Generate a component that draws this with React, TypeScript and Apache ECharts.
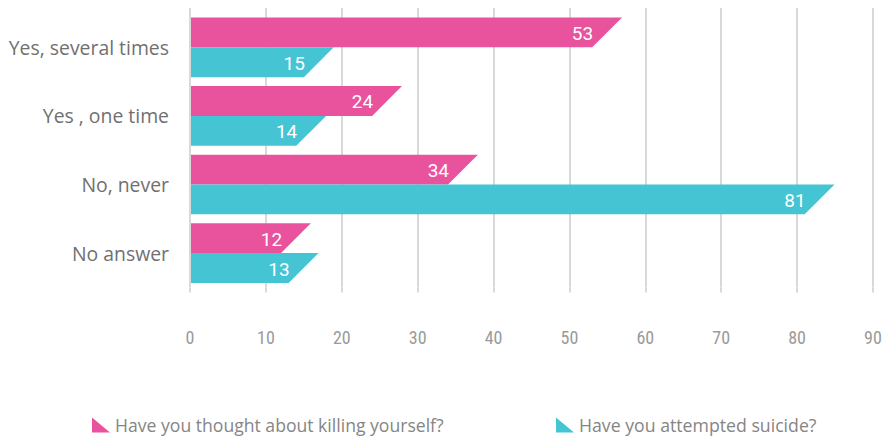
import React, { useEffect, useRef } from "react";
import * as echarts from "echarts";

const categories = ["Yes, several times", "Yes , one time", "No, never", "No answer"];
const thoughtValues = [53, 24, 34, 12];
const attemptedValues = [15, 14, 81, 13];
const seriesNames = ["Have you thought about killing yourself?", "Have you attempted suicide?"];
const xTicks = { min: 0, max: 90, interval: 10 };

const PINK = "#E9539D";
const TEAL = "#45C4D3";
const GRID = "#d9d9d9";
const FONT = "'Open Sans', Roboto, sans-serif";
const BARFONT = "Roboto, 'Noto Sans', sans-serif";
const NARROW = "'Liberation Sans Narrow', 'Roboto Condensed', 'DejaVu Sans Condensed', Roboto, sans-serif";

function makeRender(upper: boolean) {
  return (params: any, api: any) => {
    const v = api.value(0);
    const idx = api.value(1);
    const start = api.coord([0, idx]);
    const end = api.coord([v, idx]);
    const band = api.size([0, 1])[1];
    const h = band * 0.435;
    const cy = start[1];
    const y0 = upper ? cy - h : cy;
    const y1 = upper ? cy : cy + h;
    const x0 = start[0] + 1;
    const xe = end[0];
    return {
      type: "group",
      children: [
        {
          type: "polygon",
          shape: { points: [[x0, y0], [xe + h, y0], [xe, y1], [x0, y1]] },
          style: { fill: api.visual("color") },
        },
        {
          type: "text",
          style: {
            text: String(v),
            x: xe + 1,
            y: (y0 + y1) / 2 + 1,
            align: "right",
            verticalAlign: "middle",
            fill: "#ffffff",
            fontSize: 19,
            fontFamily: BARFONT,
          },
        },
      ],
    };
  };
}

export default function App() {
  const ref = useRef<HTMLDivElement>(null);
  useEffect(() => {
    if (!ref.current) return;
    const chart = echarts.init(ref.current, undefined, { renderer: "svg" });
    const legendIcon = "path://M0,0 L0,10 L12,10 Z";
    chart.setOption({
      animation: false,
      color: [PINK, TEAL],
      grid: { left: 190, right: 17, top: 13, height: 274.4, containLabel: false },
      legend: [
        {
          data: [seriesNames[0]],
          left: 87,
          top: 411,
          icon: legendIcon,
          itemWidth: 18,
          itemHeight: 15,
          itemGap: 10,
          textStyle: { fontSize: 17.6, color: "#858585", fontFamily: FONT },
        },
        {
          data: [seriesNames[1]],
          left: 551,
          top: 411,
          icon: legendIcon,
          itemWidth: 18,
          itemHeight: 15,
          itemGap: 10,
          textStyle: { fontSize: 17.7, color: "#858585", fontFamily: FONT },
        },
      ],
      xAxis: [
        {
          type: "value",
          position: "bottom",
          min: xTicks.min,
          max: xTicks.max,
          interval: xTicks.interval,
          axisLine: { show: false },
          axisTick: { show: true, length: 5, lineStyle: { color: GRID, width: 2 } },
          splitLine: { show: true, lineStyle: { color: GRID, width: 2 } },
          axisLabel: { margin: 41, fontSize: 18, color: "#9a9a9a", fontFamily: NARROW },
        },
        {
          type: "value",
          position: "top",
          min: xTicks.min,
          max: xTicks.max,
          interval: xTicks.interval,
          axisLine: { show: false },
          axisTick: { show: true, length: 5, lineStyle: { color: GRID, width: 2 } },
          splitLine: { show: false },
          axisLabel: { show: false },
        },
      ],
      yAxis: {
        type: "category",
        data: categories,
        inverse: true,
        axisLine: { show: false },
        axisTick: { show: false },
        splitLine: { show: false },
        axisLabel: { margin: 21, fontSize: 19.4, color: "#707070", fontFamily: FONT },
      },
      series: [
        {
          name: seriesNames[0],
          type: "custom",
          itemStyle: { color: PINK },
          encode: { x: 0, y: 1 },
          data: thoughtValues.map((v, i) => [v, i]),
          renderItem: makeRender(true),
        },
        {
          name: seriesNames[1],
          type: "custom",
          itemStyle: { color: TEAL },
          encode: { x: 0, y: 1 },
          data: attemptedValues.map((v, i) => [v, i]),
          renderItem: makeRender(false),
        },
      ],
    });
    return () => chart.dispose();
  }, []);
  return (
    <div
      ref={ref}
      style={{ position: "fixed", left: 0, top: 0, width: 890, height: 442, background: "#fff" }}
    />
  );
}
